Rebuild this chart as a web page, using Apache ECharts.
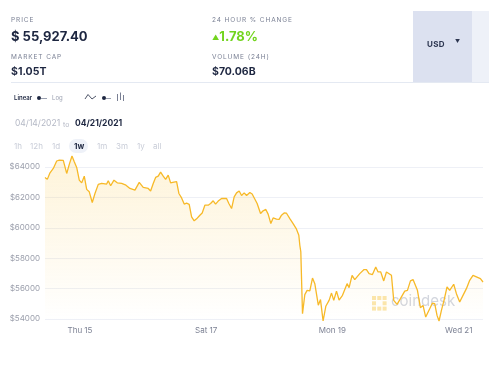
<!DOCTYPE html>
<html><head><meta charset="utf-8">
<script src="https://cdn.jsdelivr.net/npm/echarts@6/dist/echarts.min.js"></script>
<style>
html,body{margin:0;padding:0;width:500px;height:371px;background:#fff;overflow:hidden;font-family:Inter,"Noto Sans",sans-serif;}
#chart{position:absolute;left:0;top:0;width:500px;height:371px;}
.t{position:absolute;white-space:nowrap;line-height:1;}
.lab{font-size:6.5px;letter-spacing:0.9px;color:#7a8094;}
.big{font-size:13px;font-weight:700;color:#1d2640;}
.mid{font-size:10.5px;font-weight:700;color:#1d2640;}
.per{font-size:8px;color:#c9cdd8;}
</style></head>
<body>
<div id="chart"></div>
<div class="t lab" style="left:11px;top:17px;">PRICE</div>
<div class="t big" style="left:11px;top:30px;">$ 55,927.40</div>
<div class="t lab" style="left:11px;top:54px;">MARKET CAP</div>
<div class="t mid" style="left:11px;top:67px;">$1.05T</div>
<div class="t lab" style="left:212px;top:17px;">24 HOUR % CHANGE</div>
<div class="t big" style="left:212px;top:30px;color:#72d41e;"><span style="font-size:7px;position:relative;top:-1px;">&#9650;</span>1.78%</div>
<div class="t lab" style="left:212px;top:54px;">VOLUME (24H)</div>
<div class="t mid" style="left:212px;top:67px;">$70.06B</div>
<div style="position:absolute;left:413px;top:11px;width:59px;height:71px;background:#dce1f0;"></div>
<div style="position:absolute;left:472px;top:11px;width:17px;height:71px;background:#eef1f8;"></div>
<div class="t" style="left:427px;top:40px;font-size:8px;font-weight:700;color:#2c3550;letter-spacing:0.3px;">USD</div>
<div class="t" style="left:455px;top:39px;font-size:5px;color:#2c3550;">&#9660;</div>
<div style="position:absolute;left:11px;top:82px;width:478px;height:1px;background:#e4e9f2;"></div>

<div class="t" style="left:14px;top:95px;font-size:6px;font-weight:600;color:#1d2640;">Linear</div>
<div style="position:absolute;left:37px;top:96px;width:4px;height:4px;border-radius:2px;background:#1d2640;"></div>
<div style="position:absolute;left:41px;top:97.5px;width:6px;height:1px;background:#9aa0b0;"></div>
<div class="t" style="left:52px;top:95px;font-size:6px;color:#9aa0b0;">Log</div>
<svg style="position:absolute;left:84px;top:93px;" width="14" height="8"><polyline points="1,6 4,1.5 8,6 12,3" fill="none" stroke="#3a4257" stroke-width="0.9"/></svg>
<div style="position:absolute;left:102px;top:96px;width:4px;height:4px;border-radius:2px;background:#1d2640;"></div>
<div style="position:absolute;left:106px;top:97.5px;width:5px;height:1px;background:#9aa0b0;"></div>
<svg style="position:absolute;left:116px;top:92px;" width="9" height="10"><line x1="1.5" y1="2" x2="1.5" y2="9" stroke="#7a8094" stroke-width="1"/><line x1="4.5" y1="0.5" x2="4.5" y2="8" stroke="#7a8094" stroke-width="1"/><line x1="7.5" y1="3" x2="7.5" y2="9" stroke="#7a8094" stroke-width="1"/></svg>

<div class="t" style="left:15px;top:119px;font-size:8.5px;color:#b4b8c5;">04/14/2021</div>
<div class="t" style="left:63px;top:121px;font-size:7px;color:#b4b8c5;">to</div>
<div class="t" style="left:75px;top:119px;font-size:8.5px;font-weight:700;color:#1d2640;">04/21/2021</div>

<div style="position:absolute;left:69px;top:139px;width:19px;height:14px;border-radius:7px;background:#eef1f8;"></div>
<div class="t per" style="left:14px;top:142px;">1h</div>
<div class="t per" style="left:30px;top:142px;">12h</div>
<div class="t per" style="left:52px;top:142px;">1d</div>
<div class="t per" style="left:74px;top:142px;color:#1d2640;font-weight:700;">1w</div>
<div class="t per" style="left:97px;top:142px;">1m</div>
<div class="t per" style="left:116px;top:142px;">3m</div>
<div class="t per" style="left:137px;top:142px;">1y</div>
<div class="t per" style="left:153px;top:142px;">all</div>

<script>
// Hours since 2021-04-14 00:00
const hours = [10.70,11.58,12.60,13.86,15.15,16.14,17.65,18.03,18.95,19.93,20.96,21.83,22.75,23.73,24.65,25.63,26.55,27.53,28.67,29.70,30.95,32.24,34.14,34.75,35.66,36.92,38.17,39.84,41.48,43.00,44.90,46.53,48.05,49.95,50.86,51.85,52.76,53.75,54.66,55.65,56.56,57.55,58.46,59.71,60.74,61.61,62.64,63.63,64.54,65.53,66.44,67.43,68.34,69.59,70.47,71.49,72.75,73.66,74.65,75.56,76.55,77.84,79.74,80.61,81.64,82.63,83.54,84.53,85.44,86.43,87.34,88.59,89.47,91.36,92.66,93.64,94.67,95.54,96.57,97.44,98.73,99.72,100.63,101.62,102.53,103.79,105.04,106.33,107.21,107.59,107.97,108.61,109.49,110.36,111.39,112.41,113.29,114.62,115.45,116.44,117.47,118.72,119.64,120.50,121.53,122.52,123.81,125.56,126.32,127.46,128.48,130.38,132.02,132.93,133.92,135.21,136.46,137.34,138.36,139.50,140.53,142.43,143.30,144.56,145.85,147.48,148.51,149.65,150.64,152.31,153.45,154.44,155.46,156.98,158.01,158.88,159.76,160.52,161.43,162.42,163.56,164.58,166.10,167.13,168.38,169.64,170.93,172.18,173.44,174.73,176.25,177.24];
const prices = [63320,63190,63620,63910,64400,64460,64440,64400,63580,64180,64730,64350,63980,63140,62960,63400,62530,62370,61670,62260,62860,62920,62880,63100,62770,63140,62960,62920,62810,62590,62480,62990,62660,62590,62420,62920,63320,63400,63670,63400,63190,63470,62960,63010,63040,62260,61970,61560,61620,61540,60720,60460,60590,60830,60980,61490,61490,61600,61780,61560,61760,61930,61930,61600,61270,62040,62300,62420,62130,62300,62130,62330,62230,61600,60940,61120,61210,60900,60280,60650,60570,60560,60830,60980,60960,60610,60280,59910,59510,58850,58410,54340,55600,55880,55850,56690,56320,54900,55270,53860,54830,55220,55700,55220,55830,55240,55550,56320,56060,56870,56590,56980,57250,57250,56980,56920,57420,57090,57090,56500,57090,56870,55220,54960,55330,55830,55880,56500,56590,55880,54740,54890,54120,54670,55040,55000,54230,53860,54560,55220,56100,55880,56280,55660,55110,55550,55990,56540,56870,56770,56650,56430];
const xTickHours = [24, 72, 120, 168];
const xTickLabels = ['Thu 15', 'Sat 17', 'Mon 19', 'Wed 21'];
const yTickValues = [54000, 56000, 58000, 60000, 62000, 64000];

const seriesData = hours.map((h, i) => [h, prices[i]]);

const chart = echarts.init(document.getElementById('chart'), null, {renderer: 'canvas'});
const iconSq = [];
const cells = [[0,0],[1,0],[2,0],[0,1],[2,1],[0,2],[1,2],[2,2]];
cells.forEach(c => iconSq.push({type:'rect', left: 372 + c[0]*5.3, top: 296 + c[1]*5.3, shape:{width:4, height:4}, style:{fill:'#fbe6ad'}, z:0}));
chart.setOption({
  animation: false,
  grid: {left: 45, right: 17, top: 156, bottom: 50},
  graphic: iconSq.concat([
    {type:'text', left: 391, top: 294, z:0, style:{text:'coindesk', fill:'#d3d6de', font:'15px Inter, sans-serif'}}
  ]),
  xAxis: {
    type: 'value', min: 'dataMin', max: 'dataMax',
    axisLine: {show: false}, splitLine: {show: false},
    axisTick: {show: false, customValues: xTickHours},
    axisLabel: {customValues: xTickHours, color: '#7d8294', fontSize: 8, margin: 6, fontFamily: 'Inter',
      formatter: v => xTickLabels[xTickHours.indexOf(v)]}
  },
  yAxis: {
    type: 'value', min: 'dataMin', max: 'dataMax',
    axisLine: {show: false},
    axisTick: {show: false, customValues: yTickValues},
    axisLabel: {customValues: yTickValues, color: '#9a9eab', fontSize: 8, margin: 5, fontFamily: 'Inter',
      formatter: v => '$' + v},
    splitLine: {show: true, lineStyle: {color: '#eef0f6', width: 1}}
  },
  series: [{
    type: 'line', data: seriesData, showSymbol: false, z: 5,
    lineStyle: {color: '#f7b928', width: 1.3},
    areaStyle: {color: new echarts.graphic.LinearGradient(0, 0, 0, 1, [
      {offset: 0, color: 'rgba(250,196,60,0.28)'},
      {offset: 1, color: 'rgba(250,196,60,0.0)'}
    ])}
  }]
});
</script>
</body></html>
